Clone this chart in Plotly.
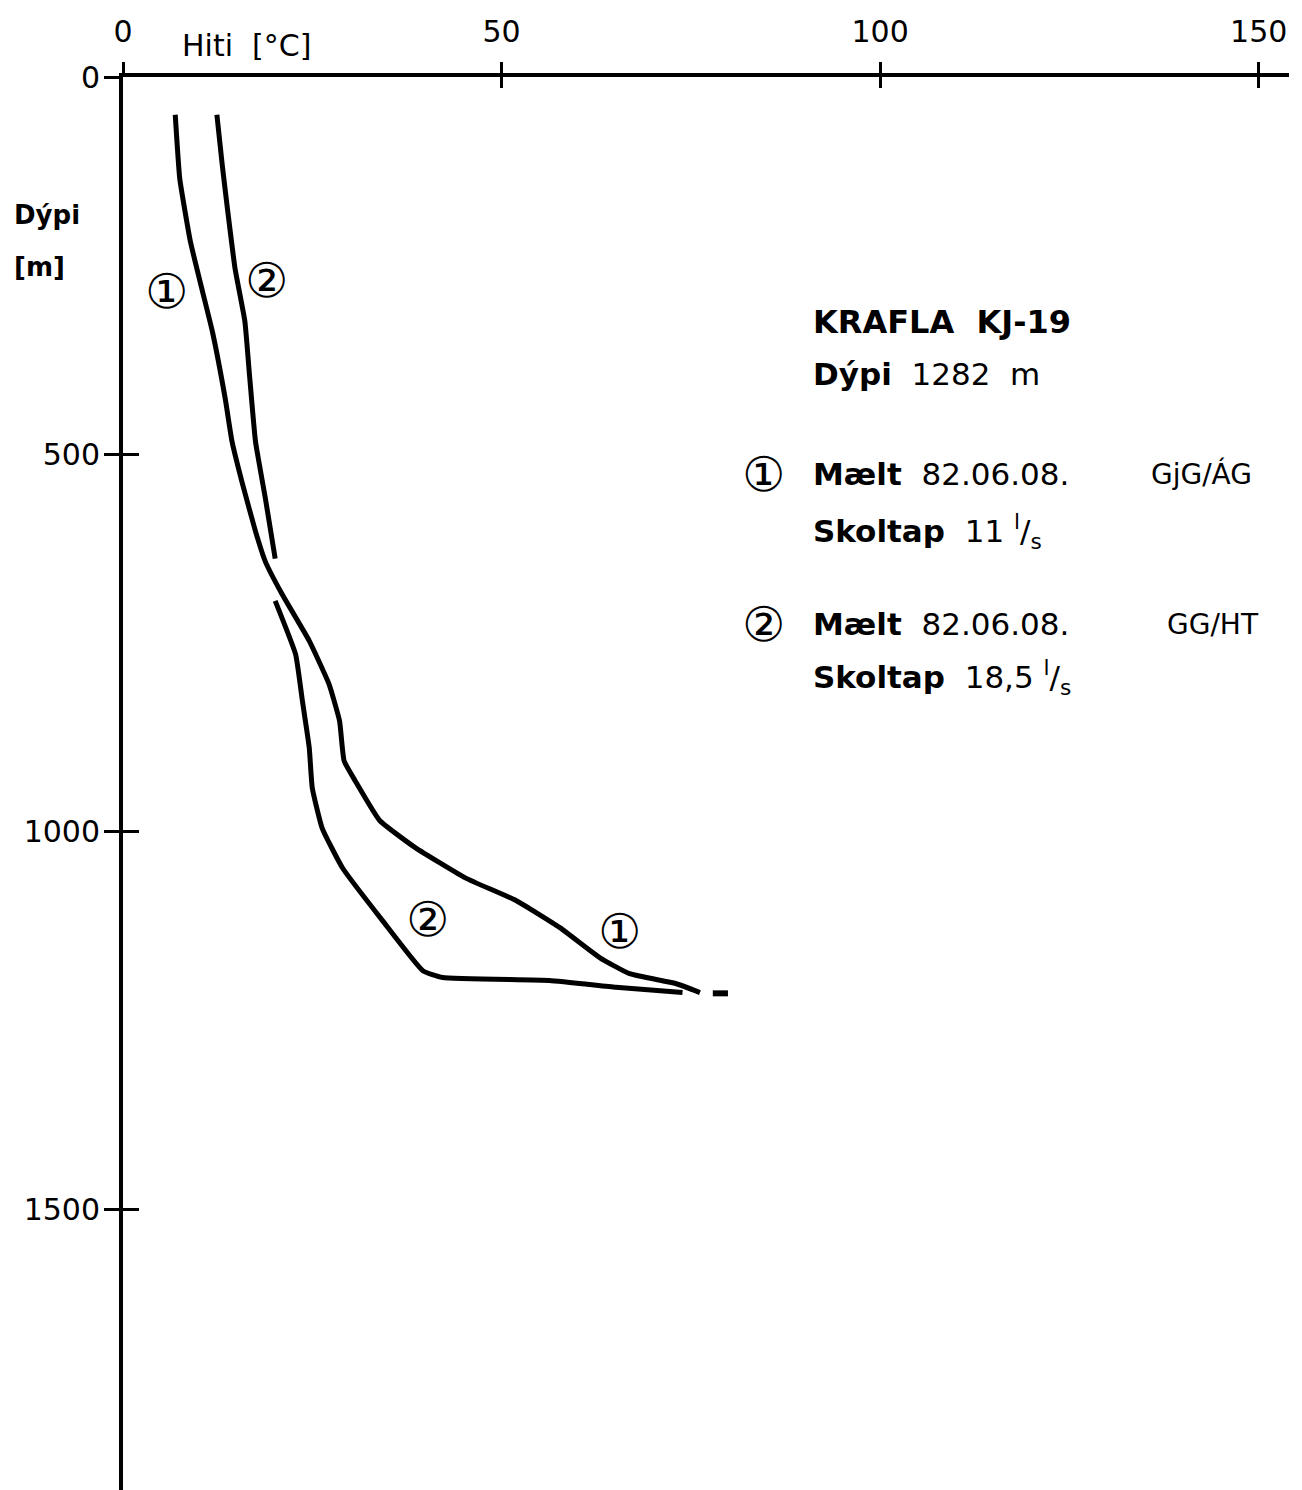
import plotly.graph_objects as go

# Curve 1 (Mælt 82.06.08., Skoltap 11 l/s)
temp1 = [6.9, 7.5, 8.9, 10.4, 11.8, 13.5, 14.4, 15.7, 17.5, 18.8, 21.0, 24.6, 27.2, 28.6,
         29.2, 30.7, 33.9, 38.6, 45.2, 51.9, 57.7, 63.0, 66.9, 73.0, 76.2]
depth1 = [50, 135, 218, 280, 337, 426, 483, 536, 602, 642, 685, 747, 804, 853,
          906, 933, 985, 1021, 1061, 1091, 1127, 1167, 1188, 1201, 1213]

# Curve 2 (Mælt 82.06.08., Skoltap 18,5 l/s) — two drawn pieces separated by a gap
temp2 = [12.4, 13.1, 13.8, 14.8, 16.1, 16.7, 17.5, 18.8, 20.1, None,
         20.1, 22.8, 23.7, 24.6, 25.0, 26.3, 29.0, 34.3, 39.6, 42.2, 56.3, 65.1, 73.9]
depth2 = [50, 116, 175, 254, 324, 394, 483, 558, 638, None,
          694, 765, 827, 889, 942, 995, 1048, 1118, 1184, 1193, 1197, 1206, 1213]

# small dash beyond the end of curve 1
temp_dash = [77.9, 79.9]
depth_dash = [1214, 1214]

x_ticks = [0, 50, 100, 150]
y_ticks = [0, 500, 1000, 1500]

FONT = "DejaVu Sans"
BLACK = "#000000"

fig = go.Figure()
fig.add_trace(go.Scatter(x=temp1, y=depth1, mode="lines",
                         line=dict(color=BLACK, width=5, shape="spline", smoothing=0.4),
                         connectgaps=False, showlegend=False, hoverinfo="skip"))
fig.add_trace(go.Scatter(x=temp2, y=depth2, mode="lines",
                         line=dict(color=BLACK, width=5, shape="spline", smoothing=0.4),
                         connectgaps=False, showlegend=False, hoverinfo="skip"))
fig.add_trace(go.Scatter(x=temp_dash, y=depth_dash, mode="lines",
                         line=dict(color=BLACK, width=6),
                         showlegend=False, hoverinfo="skip"))
# invisible trace to anchor the overlay axes (inner half of crossing ticks)
fig.add_trace(go.Scatter(x=[0], y=[0], xaxis="x2", yaxis="y2", mode="markers",
                         marker=dict(opacity=0), showlegend=False, hoverinfo="skip"))

x_range = [0, 154]
y_range = [1872, 0]

fig.update_layout(
    width=1302, height=1490,
    margin=dict(l=123, r=13, t=77, b=0, autoexpand=False),
    paper_bgcolor="white", plot_bgcolor="white",
    font=dict(family=FONT, color=BLACK, size=28),
    xaxis=dict(range=x_range, side="top", tickvals=x_ticks, ticktext=[str(v) for v in x_ticks],
               ticks="outside", ticklen=11, tickwidth=3, tickcolor=BLACK, automargin=False,
               showline=True, linewidth=4, linecolor=BLACK, showgrid=False, zeroline=False,
               tickfont=dict(size=30), ticklabelstandoff=8),
    yaxis=dict(range=y_range, tickvals=y_ticks, ticktext=[str(v) for v in y_ticks],
               ticks="outside", ticklen=15, tickwidth=3, tickcolor=BLACK, automargin=False,
               showline=True, linewidth=4, linecolor=BLACK, showgrid=False, zeroline=False,
               tickfont=dict(size=30), ticklabelstandoff=-2),
    xaxis2=dict(range=x_range, overlaying="x", side="top", tickvals=x_ticks,
                showticklabels=False, ticks="inside", ticklen=11, tickwidth=3, tickcolor=BLACK,
                showline=False, showgrid=False, zeroline=False, automargin=False),
    yaxis2=dict(range=y_range, overlaying="y", side="left", tickvals=y_ticks,
                showticklabels=False, ticks="inside", ticklen=16, tickwidth=3, tickcolor=BLACK,
                showline=False, showgrid=False, zeroline=False, automargin=False),
)

def ann(x, y, text, size=28, anchor="left", xref="x", yref="y"):
    fig.add_annotation(x=x, y=y, xref=xref, yref=yref, text=text, showarrow=False,
                       xanchor=anchor, yanchor="middle",
                       font=dict(family=FONT, size=size, color=BLACK))

# axis titles (outside the plotting area -> paper coordinates)
ann(0.049, 1.0224, "Hiti  [°C]", size=30, xref="paper", yref="paper")
ann(-0.095, 0.9025, "<b>Dýpi</b>", size=26, xref="paper", yref="paper")
ann(-0.095, 0.8655, "<b>[m]</b>", size=26, xref="paper", yref="paper")

# curve labels
ann(5.8, 284, "①", size=48, anchor="center")
ann(19.0, 269, "②", size=48, anchor="center")
ann(40.2, 1116, "②", size=48, anchor="center")
ann(65.6, 1132, "①", size=48, anchor="center")

# text block
ann(90.9, 324, "<b>KRAFLA  KJ-19</b>", size=32)
ann(90.9, 394, "<b>Dýpi</b>  1282  m", size=31)
ann(84.6, 526, "①", size=48, anchor="center")
ann(90.9, 526, "<b>Mælt</b>  82.06.08.", size=31)
ann(135.5, 526, "GjG/ÁG", size=28)
ann(90.9, 602, "<b>Skoltap</b>  11 <sup>l</sup>/<sub>s</sub>", size=31)
ann(84.6, 725, "②", size=48, anchor="center")
ann(90.9, 725, "<b>Mælt</b>  82.06.08.", size=31)
ann(137.6, 725, "GG/HT", size=28)
ann(90.9, 796, "<b>Skoltap</b>  18,5 <sup>l</sup>/<sub>s</sub>", size=31)

fig.write_html("out.html", config={"displayModeBar": False},
               post_script="document.body.style.margin='0';")
